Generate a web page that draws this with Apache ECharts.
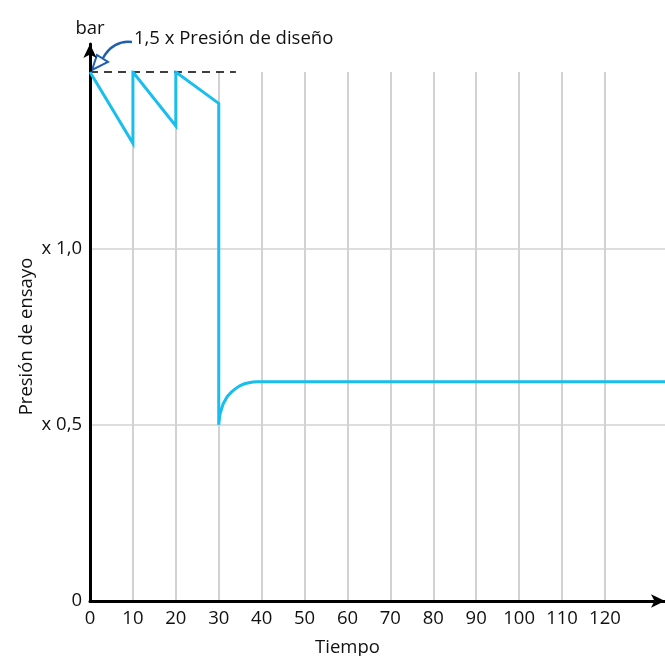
<!DOCTYPE html>
<html>
<head>
<meta charset="utf-8">
<script src="https://cdn.jsdelivr.net/npm/echarts@6/dist/echarts.min.js"></script>
<style>html,body{margin:0;padding:0;background:#fff}#c{width:665px;height:656px}</style>
</head>
<body>
<div id="c"></div>
<script>
// Data
const tiempo =   [0,   10,    10,  20,    20,  30,    30,  30.3, 31,   32,   33,    34,    35,    36,    37,    38,    39,    134];
const presion =  [1.5, 1.298, 1.5, 1.347, 1.5, 1.411, 0.5, 0.53, 0.558, 0.58, 0.593, 0.603, 0.611, 0.616, 0.619, 0.621, 0.622, 0.622];
const xTickLabels = ['0','10','20','30','40','50','60','70','80','90','100','110','120'];
const yTickLabels = {0: '0', 0.5: 'x 0,5', 1: 'x 1,0'};
const designLevel = 1.5;
const dashEnd = 34;
const annotation = '1,5 x Presión de diseño';

const FONT = 'Open Sans';
const FS = 18.5;
const chart = echarts.init(document.getElementById('c'), null, {renderer: 'canvas'});
const L = 90, R = 0, T = 72, B = 55;
const XMAX = 134;
const pxPerUnit = (665 - L - R) / XMAX;

const option = {
  animation: false,
  grid: [
    {left: L, right: R, top: T, bottom: B, outerBoundsMode: 'none', containLabel: false},
    {left: L, width: pxPerUnit * 120, top: T, bottom: B, outerBoundsMode: 'none', containLabel: false},
    {left: L, right: R, top: 44, bottom: B, outerBoundsMode: 'none', containLabel: false}
  ],
  xAxis: [
    {
      type: 'value', gridIndex: 0, min: 0, max: XMAX, interval: 10,
      axisLine: {show: true, onZero: false, lineStyle: {color: '#000', width: 3}, symbol: ['none', 'arrow'], symbolSize: [10, 14]},
      axisTick: {show: false},
      splitLine: {show: false},
      axisLabel: {
        color: '#111', fontFamily: FONT, fontSize: FS, margin: 8, showMaxLabel: false,
        formatter: v => { const i = Math.round(v / 10); return (v % 10 === 0 && i < xTickLabels.length) ? xTickLabels[i] : ''; }
      },
      name: 'Tiempo', nameLocation: 'middle', nameGap: 37,
      nameTextStyle: {color: '#111', fontFamily: FONT, fontSize: FS, padding: [0, 60, 0, 0]}
    },
    {
      type: 'value', gridIndex: 1, min: 0, max: 120, interval: 10,
      axisLine: {show: false}, axisTick: {show: false}, axisLabel: {show: false},
      splitLine: {show: true, showMinLine: false, showMaxLine: true, lineStyle: {color: '#d2d2d2', width: 2}}
    },
    {
      type: 'value', gridIndex: 2, min: 0, max: 1, show: false
    }
  ],
  yAxis: [
    {
      type: 'value', gridIndex: 0, min: 0, max: 1.5, interval: 0.5,
      axisLine: {show: false}, axisTick: {show: false},
      splitLine: {show: true, showMinLine: false, showMaxLine: false, lineStyle: {color: '#d2d2d2', width: 1.5}},
      axisLabel: {
        color: '#111', fontFamily: FONT, fontSize: FS, margin: 8,
        formatter: v => (yTickLabels[v] !== undefined ? yTickLabels[v] : '')
      },
      name: 'Presión de ensayo', nameLocation: 'middle', nameGap: 54, nameRotate: 90,
      nameMoveOverlap: false,
      nameTextStyle: {color: '#111', fontFamily: FONT, fontSize: FS}
    },
    {
      type: 'value', gridIndex: 1, min: 0, max: 1.5, show: false
    },
    {
      type: 'value', gridIndex: 2, min: 0, max: 1,
      axisLine: {show: true, lineStyle: {color: '#000', width: 3}, symbol: ['none', 'arrow'], symbolSize: [10, 14]},
      axisTick: {show: false}, axisLabel: {show: false}, splitLine: {show: false},
      name: 'bar', nameLocation: 'end', nameGap: 6,
      nameTextStyle: {color: '#111', fontFamily: FONT, fontSize: FS, align: 'center'}
    }
  ],
  series: [
    {
      type: 'line', xAxisIndex: 0, yAxisIndex: 0,
      data: tiempo.map((t, i) => [t, presion[i]]),
      showSymbol: false, symbol: 'none', smooth: false,
      lineStyle: {color: '#17BEEE', width: 3, join: 'miter'},
      z: 5,
      markLine: {
        silent: true, symbol: ['none', 'none'], label: {show: false},
        lineStyle: {color: '#000', type: [8, 6], width: 1.5},
        data: [[{coord: [0, designLevel]}, {coord: [dashEnd, designLevel]}]]
      }
    }
  ]
};
chart.setOption(option);

// Annotation with curved arrow pointing at the design level
const p = chart.convertToPixel({xAxisIndex: 0, yAxisIndex: 0}, [0, designLevel]);
const px = p[0], py = p[1];
chart.setOption({
  graphic: [
    {
      type: 'text', left: px + 44, top: py - 43,
      style: {text: annotation, fill: '#111', font: FS + 'px "' + FONT + '"'}
    },
    {
      type: 'bezierCurve',
      shape: {x1: px + 42, y1: py - 30, cpx1: px + 30, cpy1: py - 32, cpx2: px + 19, cpy2: py - 25, x2: px + 13, y2: py - 14},
      style: {stroke: '#1f5fae', lineWidth: 2.5, fill: 'none'}
    },
    {
      type: 'polygon',
      shape: {points: [[px + 2, py - 2], [px + 7, py - 17], [px + 18, py - 10]]},
      style: {stroke: '#1f5fae', lineWidth: 2, fill: '#fff', lineJoin: 'miter'}
    }
  ]
});
</script>
</body>
</html>
